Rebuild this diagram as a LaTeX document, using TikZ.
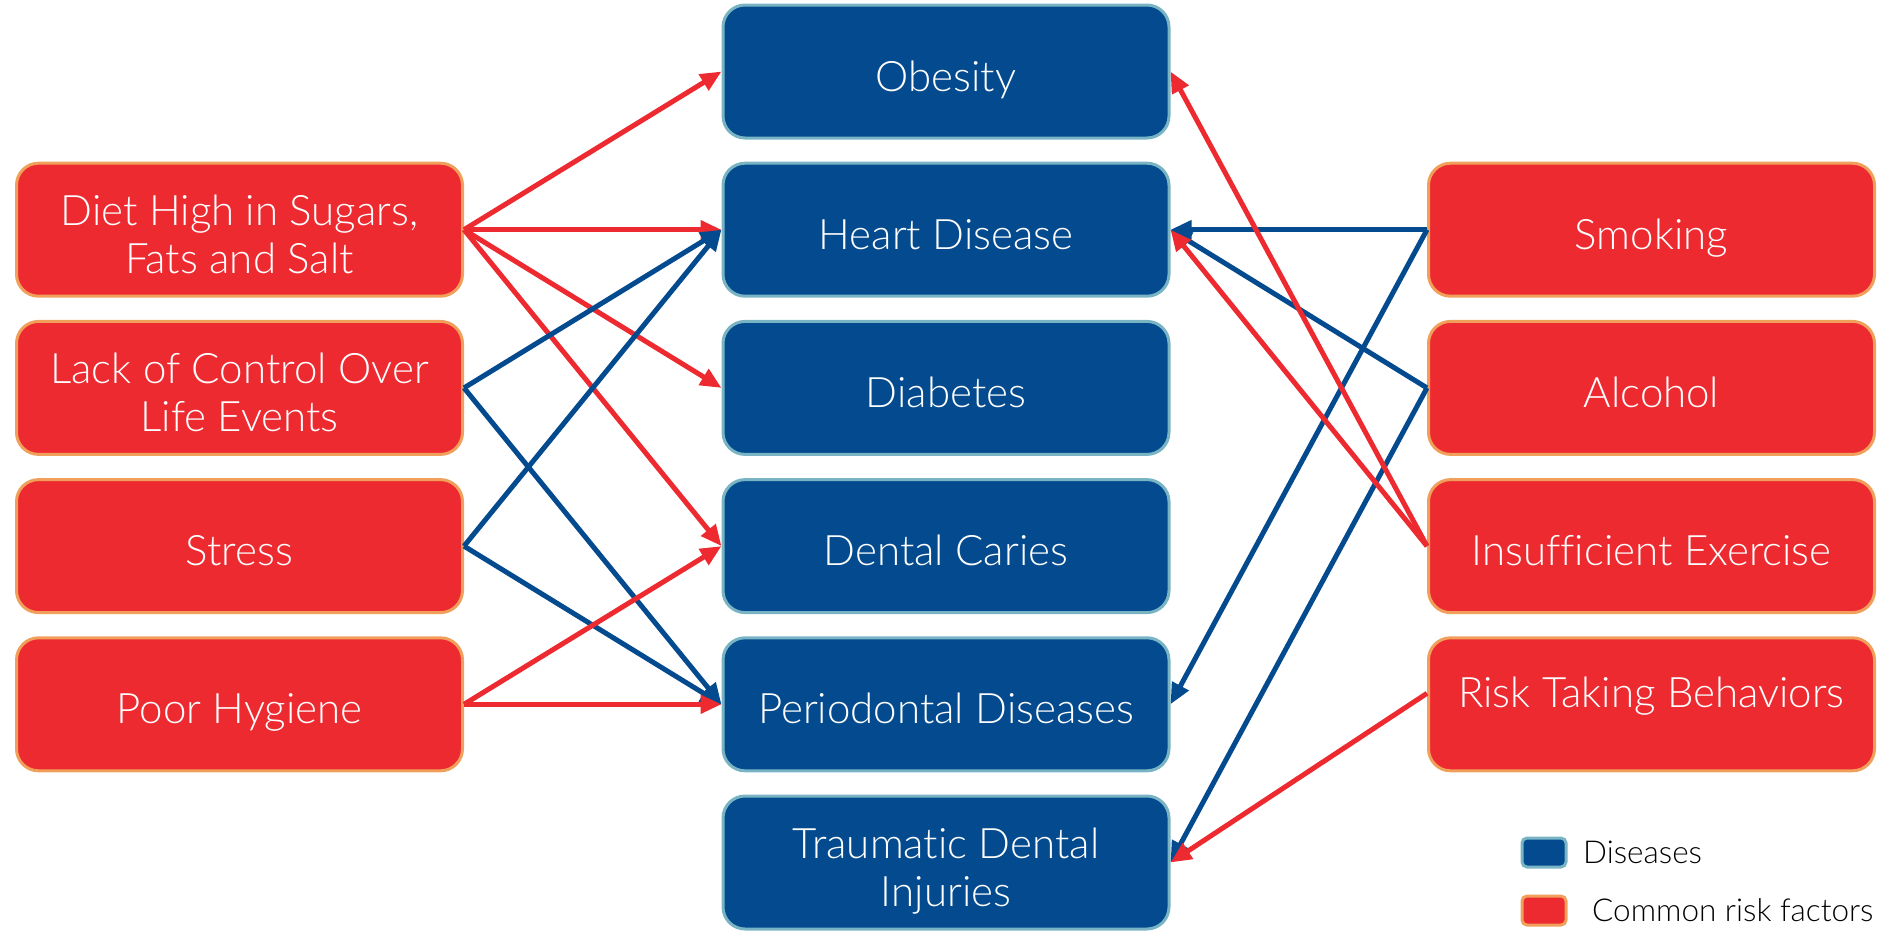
\documentclass[tikz,border=0pt]{standalone}
\usepackage{fontspec}
\setmainfont{Lato Light}[Ligatures=NoCommon]
\usetikzlibrary{arrows.meta}

\definecolor{disblue}{HTML}{034A8E}
\definecolor{disedge}{HTML}{78B4C4}
\definecolor{riskred}{HTML}{EE2A31}
\definecolor{riskedge}{HTML}{F0A05A}

\begin{document}
\begin{tikzpicture}[x=1pt, y=-1pt,
  box/.style={minimum width=446pt, minimum height=133pt, rounded corners=22pt,
    line width=3pt, inner sep=0pt, align=center, text=white,
    text height=47pt, text depth=8pt,
    font=\fontsize{42}{48}\selectfont},
  twoline/.style={text height=96pt, text depth=8pt},
  disease/.style={box, fill=disblue, draw=disedge},
  factor/.style={box, fill=riskred, draw=riskedge},
  keybox/.style={minimum width=44pt, minimum height=29pt, rounded corners=5pt,
    text height=0pt, text depth=0pt},
  redarrow/.style={line width=5pt, riskred, -{Triangle[length=21pt, width=18pt]}},
  bluearrow/.style={line width=5pt, disblue, -{Triangle[length=21pt, width=18pt]}},
  keytext/.style={anchor=west, inner sep=0pt, font=\fontsize{31.5}{36}\selectfont}]

\useasboundingbox (0,0) rectangle (1883,930);

% Common risk factors, left column
\node[factor, twoline] (diet) at (239.5,229.7) {Diet High in Sugars,\\Fats and Salt};
\node[factor, twoline] (control) at (239.5,387.9) {Lack of Control Over\\Life Events};
\node[factor] (stress) at (239.5,546.1) {Stress};
\node[factor] (hygiene) at (239.5,704.3) {Poor Hygiene};

% Diseases, middle column
\node[disease] (obesity) at (946,71.5) {Obesity};
\node[disease] (heart) at (946,229.7) {Heart Disease};
\node[disease] (diabetes) at (946,387.9) {Diabetes};
\node[disease] (caries) at (946,546.1) {Dental Caries};
\node[disease] (perio) at (946,704.3) {Periodontal Diseases};
\node[disease, twoline] (trauma) at (946,862.5) {Traumatic Dental\\Injuries};

% Common risk factors, right column
\node[factor] (smoking) at (1651.5,229.7) {Smoking};
\node[factor] (alcohol) at (1651.5,387.9) {Alcohol};
\node[factor] (exercise) at (1651.5,546.1) {Insufficient Exercise};
\node[factor, text depth=40pt] (risk) at (1651.5,704.3) {Risk Taking Behaviors};

% Diet
\draw[redarrow] (diet.east) -- (obesity.west);
\draw[redarrow] (diet.east) -- (heart.west);
\draw[redarrow] (diet.east) -- (diabetes.west);
\draw[redarrow] (diet.east) -- (caries.west);

% Lack of control and stress
\draw[bluearrow] (control.east) -- (heart.west);
\draw[bluearrow] (control.east) -- (perio.west);
\draw[bluearrow] (stress.east) -- (heart.west);
\draw[bluearrow] (stress.east) -- (perio.west);

% Poor hygiene
\draw[redarrow] (hygiene.east) -- (caries.west);
\draw[redarrow] (hygiene.east) -- (perio.west);

% Smoking and alcohol
\draw[bluearrow] (smoking.west) -- (heart.east);
\draw[bluearrow] (smoking.west) -- (perio.east);
\draw[bluearrow] (alcohol.west) -- (heart.east);
\draw[bluearrow] (alcohol.west) -- (trauma.east);

% Insufficient exercise and risk taking
\draw[redarrow] (exercise.west) -- (obesity.east);
\draw[redarrow] (exercise.west) -- (heart.east);
\draw[redarrow] ([yshift=11pt]risk.west) -- (trauma.east);

% Legend
\node[disease, keybox] (keydis) at (1544,852.5) {};
\node[keytext] (keydistext) at (1583,852.5) {Diseases};
\node[factor, keybox] (keyrisk) at (1544,910.5) {};
\node[keytext] (keyrisktext) at (1592,910.5) {Common risk factors};

\end{tikzpicture}
\end{document}
